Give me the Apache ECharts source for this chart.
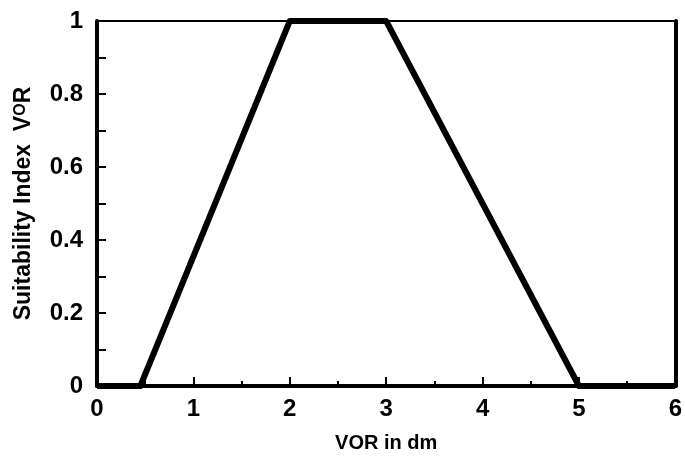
<!DOCTYPE html>
<html lang="en">
<head>
    <meta charset="UTF-8">
    <title>Suitability Index VOR</title>
    <style>
        html,body{margin:0;padding:0;background:#fff;}
        #main{width:685px;height:458px;}
    </style>
</head>
<body>
<div id="main"></div>
<script src="https://cdn.jsdelivr.net/npm/echarts@6/dist/echarts.min.js"></script>
<script>
// VOR (dm) vs suitability index
const vorX = [0, 0.45, 2, 3, 5, 6];
const suitY = [0, 0, 1, 1, 0, 0];

const xTicks = [0, 1, 2, 3, 4, 5, 6];
const yTicks = [0, 0.2, 0.4, 0.6, 0.8, 1];

const font = 'Liberation Sans, Arial, sans-serif';
// tick digits in the original are a tall, narrow bold face
const tickFont = '"Liberation Sans Narrow", "Arial Narrow", sans-serif';
const labelStyle = {color: '#000', fontFamily: tickFont, fontWeight: 'bold', fontSize: 24};

const myChart = echarts.init(document.getElementById('main'));

const option = {
    backgroundColor: '#fff',
    animation: false,
    grid: {
        left: 97, right: 8, top: 21, bottom: 71,
        show: true, borderColor: '#000', borderWidth: 2
    },
    xAxis: {
        type: 'value',
        min: xTicks[0],
        max: xTicks[xTicks.length - 1],
        interval: 1,
        name: 'VOR in dm',
        nameLocation: 'middle',
        nameGap: 47,
        nameTextStyle: {color: '#000', fontFamily: font, fontWeight: 'bold', fontSize: 20},
        axisLine: {lineStyle: {color: '#000', width: 4}},
        axisTick: {inside: true, length: 9, lineStyle: {color: '#000', width: 2}},
        minorTick: {show: true, splitNumber: 2, length: 5, lineStyle: {color: '#000', width: 2}},
        splitLine: {show: false},
        axisLabel: Object.assign({margin: 11}, labelStyle)
    },
    yAxis: [{
        type: 'value',
        min: yTicks[0],
        max: yTicks[yTicks.length - 1],
        interval: 0.2,
        name: '{n|Suitability Index  V}{o|O}{n|R}',
        nameLocation: 'middle',
        nameGap: 62,
        nameTextStyle: {
            rich: {
                n: {color: '#000', fontFamily: font, fontWeight: 'bold', fontSize: 23},
                o: {color: '#000', fontFamily: font, fontWeight: 'bold', fontSize: 16, padding: [0, 0, 5, 0]}
            }
        },
        axisLine: {lineStyle: {color: '#000', width: 4}},
        axisTick: {inside: true, length: 9, lineStyle: {color: '#000', width: 2}},
        minorTick: {show: true, splitNumber: 2, length: 9, lineStyle: {color: '#000', width: 2}},
        splitLine: {show: false},
        axisLabel: Object.assign({margin: 14, formatter: v => String(Math.round(v * 10) / 10)}, labelStyle)
    }, {
        type: 'value',
        position: 'right',
        min: 0, max: 1,
        axisLine: {show: true, lineStyle: {color: '#000', width: 4}},
        axisTick: {show: false},
        axisLabel: {show: false},
        splitLine: {show: false}
    }],
    series: [{
        type: 'line',
        data: vorX.map((x, i) => [x, suitY[i]]),
        symbol: 'none',
        lineStyle: {color: '#000', width: 6, join: 'round'}
    }]
};

myChart.setOption(option);
</script>
</body>
</html>
